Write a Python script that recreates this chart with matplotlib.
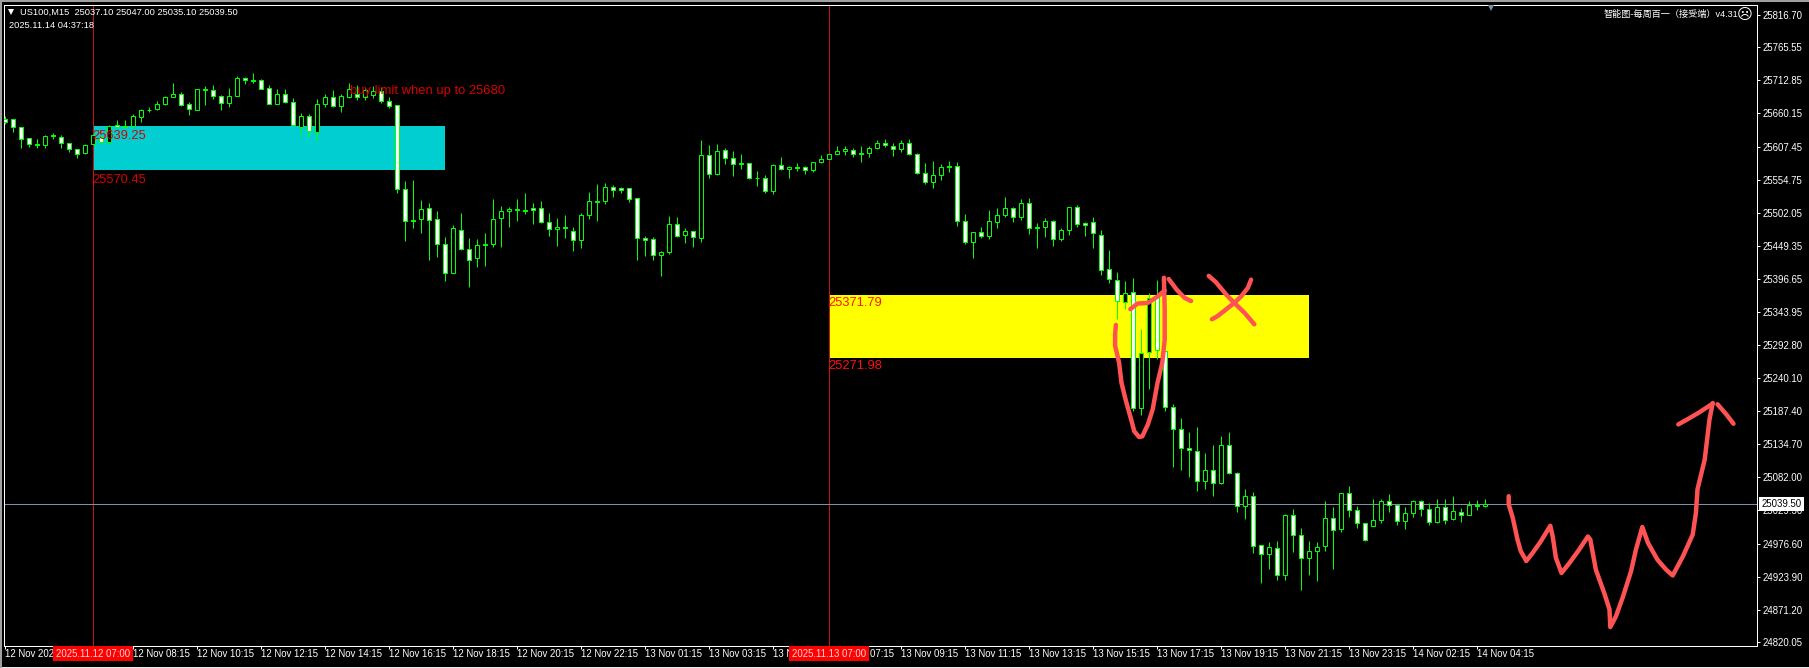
import matplotlib
matplotlib.use('Agg')
import matplotlib.pyplot as plt
from matplotlib.patches import Rectangle

# M15 candles, one value per bar
OPENS = [
    25651, 25651, 25639, 25621, 25612, 25610, 25625, 25623, 25613, 25604,
    25597, 25612, 25623, 25615, 25642, 25640, 25640, 25655, 25666, 25667,
    25675, 25686, 25691, 25675, 25666, 25699, 25698, 25688, 25677, 25688,
    25717, 25713, 25713, 25701, 25675, 25691, 25678, 25639, 25656, 25631,
    25675, 25686, 25672, 25686, 25691, 25686, 25690, 25696, 25680, 25674,
    25540, 25490, 25493, 25510, 25493, 25453, 25407, 25475, 25445, 25430,
    25453, 25453, 25494, 25505, 25508, 25507, 25510, 25510, 25488, 25477,
    25480, 25473, 25459, 25499, 25521, 25521, 25543, 25542, 25542, 25526,
    25462, 25461, 25435, 25440, 25485, 25467, 25473, 25462, 25594, 25564,
    25602, 25589, 25581, 25581, 25558, 25558, 25537, 25578, 25572, 25575,
    25575, 25570, 25583, 25588, 25596, 25601, 25602, 25597, 25597, 25605,
    25613, 25609, 25604, 25613, 25596, 25566, 25551, 25562, 25577, 25577,
    25489, 25456, 25472, 25466, 25487, 25499, 25510, 25496, 25518, 25480,
    25480, 25489, 25461, 25475, 25512, 25486, 25488, 25467, 25413, 25396,
    25361, 25377, 25192, 25281, 25370, 25283, 25194, 25159, 25129, 25124,
    25076, 25094, 25073, 25134, 25089, 25037, 25053, 24975, 24960, 24970,
    24927, 25022, 24991, 24954, 24965, 24973, 25018, 25000, 25057, 25030,
    25010, 25005, 25014, 25045, 25038, 25013, 25026, 25045, 25032, 25011,
    25035, 25016, 25027, 25022, 25038, 25037.1,
]
CLOSES = [
    25646, 25639, 25620, 25612, 25610, 25624, 25624, 25613, 25603, 25596,
    25610, 25626, 25615, 25640, 25639, 25639, 25656, 25666, 25665, 25675,
    25686, 25691, 25674, 25667, 25699, 25698, 25688, 25677, 25688, 25717,
    25713, 25712, 25699, 25675, 25691, 25678, 25642, 25656, 25632, 25675,
    25686, 25672, 25688, 25699, 25686, 25698, 25696, 25680, 25672, 25540,
    25489, 25489, 25508, 25491, 25453, 25407, 25478, 25445, 25427, 25451,
    25451, 25493, 25505, 25508, 25507, 25505, 25507, 25488, 25477, 25480,
    25478, 25459, 25499, 25521, 25520, 25543, 25539, 25539, 25524, 25462,
    25459, 25435, 25440, 25485, 25466, 25473, 25464, 25594, 25564, 25601,
    25589, 25580, 25580, 25558, 25557, 25537, 25578, 25572, 25575, 25574,
    25570, 25583, 25588, 25596, 25601, 25604, 25596, 25596, 25605, 25613,
    25610, 25604, 25613, 25596, 25566, 25551, 25562, 25575, 25575, 25489,
    25456, 25472, 25466, 25489, 25499, 25510, 25496, 25518, 25478, 25478,
    25489, 25461, 25475, 25512, 25485, 25483, 25470, 25412, 25397, 25362,
    25375, 25192, 25280, 25367, 25285, 25194, 25159, 25129, 25126, 25076,
    25094, 25073, 25134, 25089, 25037, 25053, 24973, 24960, 24972, 24927,
    25022, 24991, 24954, 24965, 24972, 25018, 24999, 25057, 25030, 25010,
    24983, 25014, 25045, 25038, 25013, 25026, 25045, 25032, 25011, 25035,
    25014, 25029, 25022, 25038, 25037, 25039.5,
]
HIGHS = [
    25656, 25651, 25639, 25621, 25620, 25626, 25629, 25626, 25613, 25604,
    25612, 25628, 25624, 25642, 25650, 25650, 25659, 25667, 25670, 25680,
    25688, 25708, 25694, 25678, 25699, 25704, 25705, 25690, 25701, 25720,
    25718, 25724, 25715, 25705, 25699, 25699, 25685, 25661, 25659, 25683,
    25691, 25698, 25691, 25708, 25705, 25702, 25704, 25702, 25686, 25674,
    25553, 25555, 25523, 25518, 25505, 25464, 25483, 25502, 25462, 25461,
    25470, 25524, 25513, 25512, 25524, 25534, 25518, 25521, 25502, 25494,
    25499, 25480, 25502, 25535, 25548, 25550, 25547, 25543, 25542, 25526,
    25466, 25464, 25442, 25497, 25496, 25478, 25473, 25618, 25610, 25612,
    25605, 25601, 25596, 25581, 25569, 25562, 25580, 25591, 25577, 25581,
    25577, 25583, 25594, 25596, 25609, 25609, 25605, 25609, 25609, 25618,
    25620, 25613, 25618, 25620, 25597, 25581, 25585, 25580, 25585, 25583,
    25501, 25472, 25480, 25507, 25510, 25528, 25512, 25524, 25526, 25486,
    25494, 25491, 25478, 25512, 25515, 25488, 25496, 25475, 25443, 25408,
    25394, 25399, 25317, 25375, 25396, 25283, 25198, 25176, 25154, 25162,
    25121, 25134, 25148, 25154, 25091, 25064, 25059, 24975, 24980, 24981,
    25024, 25032, 25002, 24981, 24980, 25045, 25035, 25057, 25068, 25037,
    25010, 25048, 25048, 25056, 25038, 25035, 25046, 25046, 25041, 25048,
    25048, 25053, 25033, 25045, 25046, 25047.0,
]
LOWS = [
    25644, 25630, 25605, 25606, 25605, 25605, 25620, 25605, 25598, 25589,
    25595, 25612, 25613, 25613, 25637, 25637, 25639, 25647, 25662, 25666,
    25674, 25686, 25672, 25658, 25666, 25673, 25683, 25665, 25670, 25688,
    25706, 25709, 25699, 25675, 25675, 25677, 25640, 25624, 25623, 25617,
    25670, 25670, 25663, 25685, 25681, 25682, 25685, 25676, 25668, 25533,
    25457, 25478, 25470, 25427, 25432, 25394, 25407, 25443, 25384, 25416,
    25417, 25448, 25448, 25479, 25489, 25500, 25484, 25486, 25465, 25449,
    25462, 25441, 25446, 25492, 25489, 25516, 25527, 25533, 25519, 25427,
    25433, 25427, 25401, 25436, 25463, 25454, 25448, 25455, 25557, 25562,
    25579, 25560, 25571, 25556, 25544, 25534, 25532, 25570, 25557, 25569,
    25564, 25567, 25582, 25588, 25596, 25594, 25591, 25583, 25591, 25604,
    25606, 25592, 25598, 25594, 25564, 25548, 25541, 25554, 25567, 25481,
    25453, 25430, 25462, 25461, 25478, 25496, 25487, 25490, 25468, 25446,
    25463, 25449, 25457, 25467, 25479, 25465, 25446, 25403, 25390, 25333,
    25350, 25187, 25181, 25223, 25270, 25187, 25098, 25093, 25082, 25060,
    25063, 25052, 25071, 25087, 25027, 25016, 24962, 24914, 24936, 24919,
    24919, 24963, 24903, 24927, 24917, 24965, 24936, 24995, 25019, 25001,
    24981, 25005, 25009, 25027, 25006, 25000, 25019, 25020, 25006, 25009,
    25008, 25014, 25011, 25022, 25030, 25035.1,
]

PRICE_TICKS = [25816.70, 25765.55, 25712.85, 25660.15, 25607.45, 25554.75, 25502.05,
               25449.35, 25396.65, 25343.95, 25292.80, 25240.10, 25187.40, 25134.70,
               25082.00, 25029.30, 24976.60, 24923.90, 24871.20, 24820.05]
TIME_TICKS = list(range(0, 185, 8))
TIME_LABELS = ['12 Nov 2025', '', '12 Nov 08:15', '12 Nov 10:15', '12 Nov 12:15',
               '12 Nov 14:15', '12 Nov 16:15', '12 Nov 18:15', '12 Nov 20:15', '12 Nov 22:15',
               '13 Nov 01:15', '13 Nov 03:15', '13 Nov 05:15', '13 Nov 07:15', '13 Nov 09:15',
               '13 Nov 11:15', '13 Nov 13:15', '13 Nov 15:15', '13 Nov 17:15', '13 Nov 19:15',
               '13 Nov 21:15', '13 Nov 23:15', '14 Nov 02:15', '14 Nov 04:15']

CURRENT_PRICE = 25039.50
SESSION_BARS = [11, 103]
SESSION_LABELS = ['2025.11.12 07:00', '2025.11.13 07:00']

# zones: first bar, last bar, upper price, lower price
ZONE_BARS = [(11, 55), (103, 163)]
ZONE_PRICES = [(25639.25, 25570.45), (25371.79, 25271.98)]
ZONE_COLORS = ['#00ced1', '#ffff00']

# hand drawn marks, bar position / price
U_BARS = [138.9, 138.8, 138.8, 139.3, 139.6, 140.1, 140.8, 141.2, 141.8, 142.2, 142.9,
          143.5, 144.1, 144.7, 145.0, 145.0, 144.9]
U_PRICES = [25324, 25309, 25291, 25264, 25232, 25206, 25174, 25155, 25146, 25147, 25166,
            25190, 25232, 25264, 25301, 25349, 25399]
HEAD1_BARS = [140.7, 141.6, 142.9, 144.1, 145.0]
HEAD1_PRICES = [25349, 25358, 25359, 25369, 25379]
HEAD2_BARS = [145.5, 146.5, 147.5, 148.3]
HEAD2_PRICES = [25397, 25380, 25367, 25362]
CROSS1_BARS = [150.5, 151.4, 152.7, 153.7, 155.0, 156.2]
CROSS1_PRICES = [25402, 25392, 25372, 25359, 25343, 25325]
CROSS2_BARS = [155.8, 155.4, 154.6, 153.7, 152.7, 151.6, 150.9]
CROSS2_PRICES = [25396, 25383, 25370, 25359, 25349, 25338, 25333]
PATH_BARS = [188.0, 188.0, 188.5, 189.1, 189.5, 190.2, 191.0, 192.0, 193.2, 193.5, 193.9,
             194.6, 195.6, 196.8, 197.9, 198.2, 198.9, 200.0, 200.6, 200.7, 201.4, 202.3,
             203.3, 203.9, 204.7, 205.4, 206.6, 207.7, 208.5, 209.8, 211.0, 211.4, 211.6,
             212.5, 213.1, 213.5]
PATH_PRICES = [25052, 25039, 25018, 24983, 24965, 24949, 24962, 24980, 25005, 24988, 24954,
               24930, 24946, 24967, 24988, 24983, 24935, 24896, 24872, 24844, 24861, 24893,
               24933, 24967, 25003, 24978, 24951, 24935, 24926, 24957, 24991, 25025, 25063,
               25110, 25174, 25200]
HEAD3_BARS = [209.2, 210.6, 211.8, 213.5]
HEAD3_PRICES = [25166, 25176, 25185, 25199]
HEAD4_BARS = [214.1, 215.2, 216.1]
HEAD4_PRICES = [25198, 25182, 25167]

STROKES = [(U_BARS, U_PRICES), (HEAD1_BARS, HEAD1_PRICES), (HEAD2_BARS, HEAD2_PRICES),
           (CROSS1_BARS, CROSS1_PRICES), (CROSS2_BARS, CROSS2_PRICES),
           (PATH_BARS, PATH_PRICES), (HEAD3_BARS, HEAD3_PRICES), (HEAD4_BARS, HEAD4_PRICES)]

GREEN = '#00ff00'
RED_TEXT = '#d80000'
W, H = 1809, 668
PX = 0.72  # one pixel at dpi 100

plt.rcParams['font.family'] = ['Liberation Sans', 'Noto Sans CJK SC', 'DejaVu Sans']

fig = plt.figure(figsize=(W / 100, H / 100), dpi=100, facecolor='black')
fig.add_artist(Rectangle((0, 1 - 1.5 / H), 1, 1.5 / H, transform=fig.transFigure, color='#a0a0a0', lw=0))
fig.add_artist(Rectangle((0, 0), 1, 1.5 / H, transform=fig.transFigure, color='#e8e8e8', lw=0))
fig.add_artist(Rectangle((0, 0), 1.5 / W, 1, transform=fig.transFigure, color='#a0a0a0', lw=0))

ax = fig.add_axes([3.5 / W, (H - 645.5) / H, 1753 / W, 641 / H], facecolor='black')
ax.set_xlim(-0.15, 218.975)
ax.set_ylim(24814.8, 25833.05)
for side in ax.spines.values():
    side.set_color('white')
    side.set_linewidth(PX)

ax.yaxis.tick_right()
ax.set_yticks(PRICE_TICKS)
ax.set_yticklabels([f'{p:.2f}' for p in PRICE_TICKS], color='white', fontsize=6.9)
ax.tick_params(axis='y', length=2.5, width=PX, color='white', pad=2.2)
ax.set_xticks(TIME_TICKS)
ax.set_xticklabels(TIME_LABELS, color='white', fontsize=6.9, ha='left')
ax.tick_params(axis='x', length=2, width=PX, color='white', pad=0.8)

# zones
for (x0, x1), (top, bottom), col in zip(ZONE_BARS, ZONE_PRICES, ZONE_COLORS):
    ax.add_patch(Rectangle((x0, bottom), x1 - x0, top - bottom, facecolor=col, edgecolor='none', zorder=1))

# session lines and their time flags
for bar, label in zip(SESSION_BARS, SESSION_LABELS):
    ax.axvline(bar, color='#c81414', lw=PX, zorder=1.5)
    ax.add_patch(Rectangle((bar - 5, -0.0235), 10, 0.0235, transform=ax.get_xaxis_transform(),
                           facecolor='#ff0000', edgecolor='none', clip_on=False, zorder=6))
    ax.text(bar, -0.0135, label, transform=ax.get_xaxis_transform(), color='#ffd8d8', fontsize=6.9,
            ha='center', va='center', clip_on=False, zorder=7)

ax.axhline(CURRENT_PRICE, color='#8090a8', lw=PX, zorder=1.8)

# candles
bars = list(range(len(OPENS)))
ax.vlines(bars, LOWS, HIGHS, color=GREEN, lw=PX, zorder=2)
for b, o, c in zip(bars, OPENS, CLOSES):
    ax.bar(b, abs(c - o), bottom=min(o, c), width=0.5, facecolor='black' if c > o else 'white',
           edgecolor=GREEN, linewidth=PX, zorder=3)

# level labels
ax.text(11, 25624.5, '25639.25', color=RED_TEXT, fontsize=9.3, va='center', ha='left', zorder=5)
ax.text(11, 25555, '25570.45', color=RED_TEXT, fontsize=9.3, va='center', ha='left', zorder=5)
ax.text(103, 25359.5, '25371.79', color='#ff1010', fontsize=9.3, va='center', ha='left', zorder=5)
ax.text(103, 25258.5, '25271.98', color='#ff1010', fontsize=9.3, va='center', ha='left', zorder=5)
ax.text(43.1, 25695.5, 'buy limit when up to 25680', color=RED_TEXT, fontsize=9.4, va='center', ha='left', zorder=5)

for xs, ys in STROKES:
    ax.plot(xs, ys, color='#ff5252', lw=3.2, solid_capstyle='round', solid_joinstyle='round', zorder=8)

# header and small glyphs
fig.text(20 / W, 1 - 12.7 / H, 'US100,M15  25037.10 25047.00 25035.10 25039.50', color='white',
         fontsize=6.7, va='center', ha='left')
fig.text(9 / W, 1 - 25.5 / H, '2025.11.14 04:37:18', color='white', fontsize=6.7, va='center', ha='left')
fig.text(1738 / W, 1 - 14.5 / H, '智能图-每周百一（接受端）v4.31', color='white', fontsize=6.6, va='center', ha='right')
ax.plot([0.8], [25821], marker='v', ms=5, color='white', mew=0, zorder=9)
ax.plot([185.8], [25829.5], marker='v', ms=5.5, color='#8090a0', mew=0, zorder=9)
fig.text(1745 / W, 1 - 14.5 / H, '☹', color='white', fontsize=11, family='DejaVu Sans', va='center', ha='center')

# current price flag
ax.text(1.0027, CURRENT_PRICE, f'{CURRENT_PRICE:.2f}', transform=ax.get_yaxis_transform(), color='black',
        fontsize=6.9, va='center', ha='left', clip_on=False, zorder=10,
        bbox=dict(facecolor='white', edgecolor='none', pad=1.6))

fig.savefig('out.png', dpi=100, facecolor='black')
